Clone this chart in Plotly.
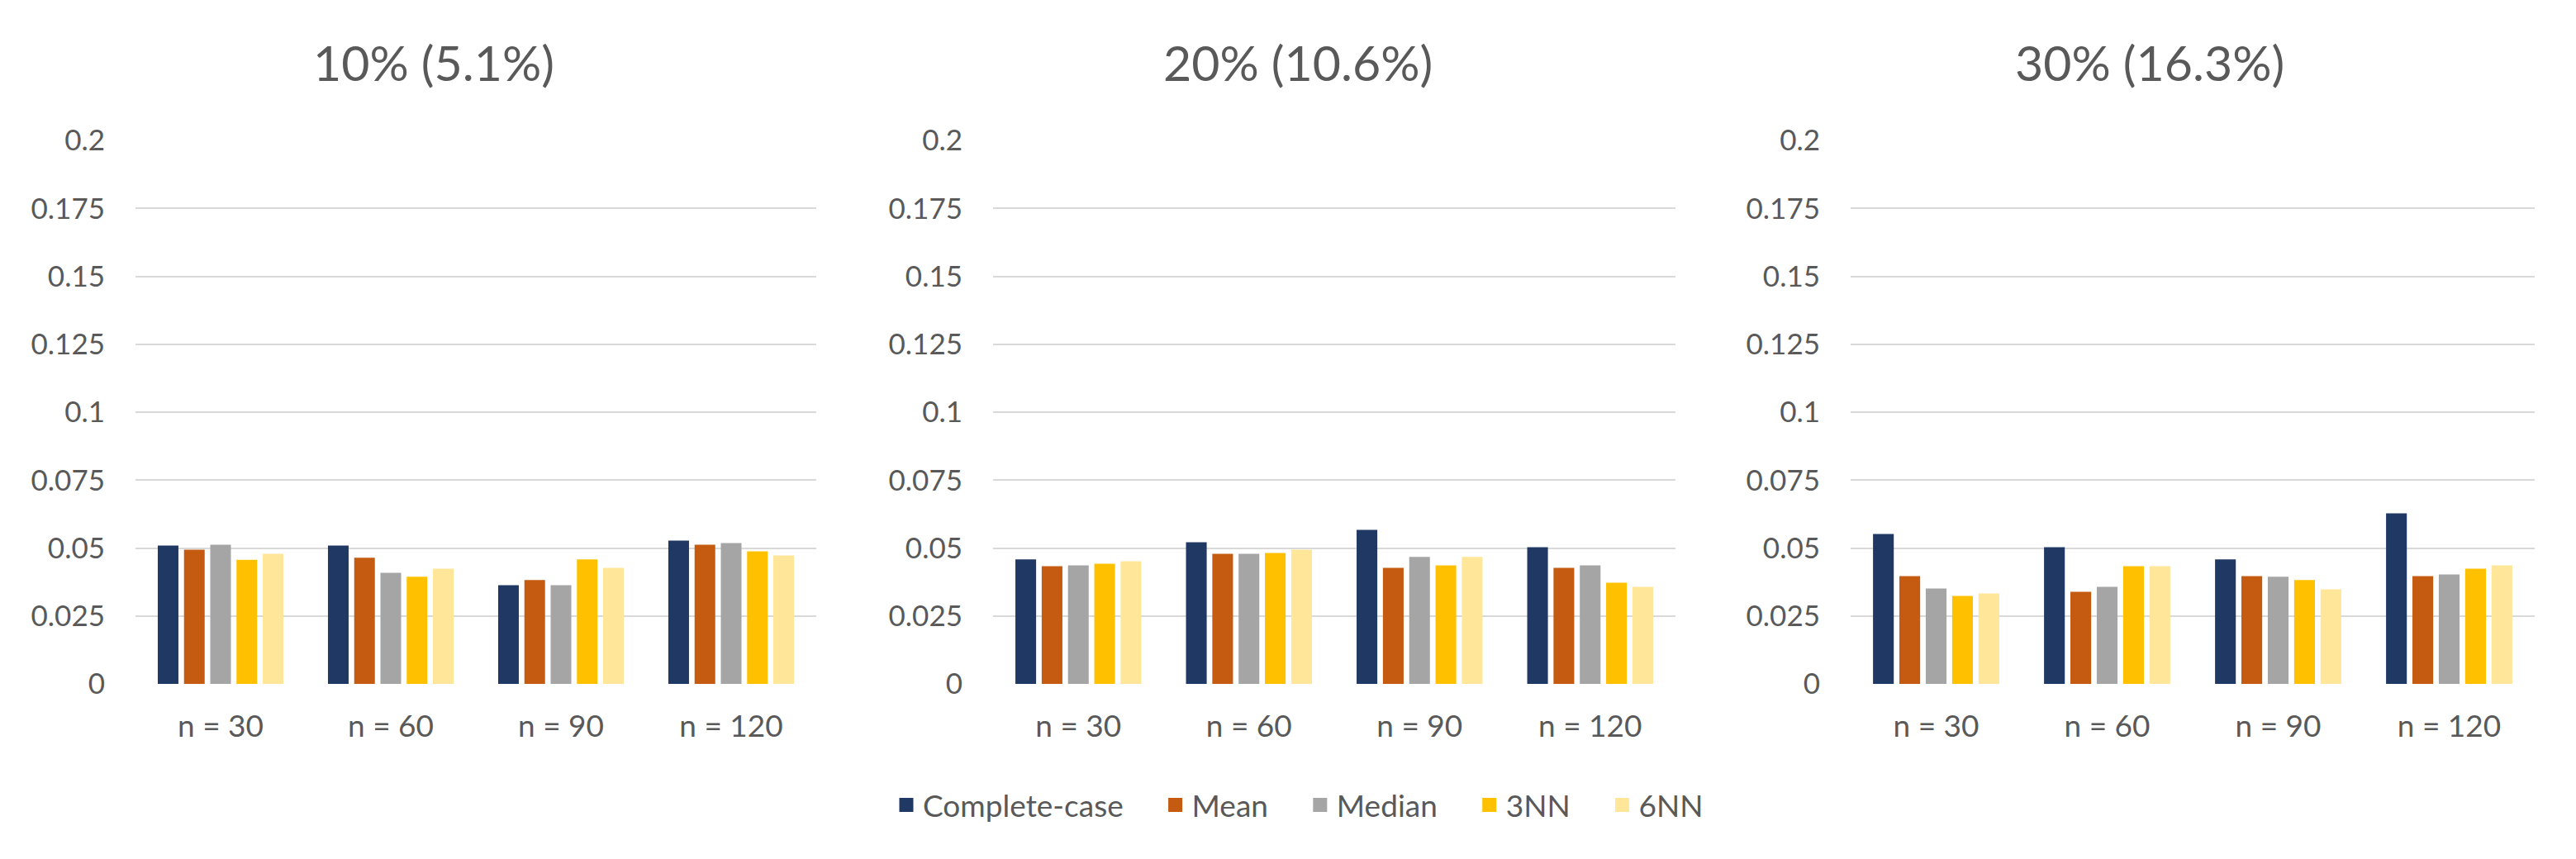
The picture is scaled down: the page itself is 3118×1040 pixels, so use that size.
import plotly.graph_objects as go

categories = ["n = 30", "n = 60", "n = 90", "n = 120"]
methods = ["Complete-case", "Mean", "Median", "3NN", "6NN"]
colors = ["#203864", "#C55A11", "#A5A5A5", "#FFC000", "#FFE699"]
panel_titles = ["10% (5.1%)", "20% (10.6%)", "30% (16.3%)"]
y_ticks = [0, 0.025, 0.05, 0.075, 0.1, 0.125, 0.15, 0.175, 0.2]
y_tick_labels = ["0", "0.025", "0.05", "0.075", "0.1", "0.125", "0.15", "0.175", "0.2"]

p10_complete = [0.0509, 0.0509, 0.0363, 0.0527]
p10_mean = [0.0494, 0.0464, 0.0382, 0.0512]
p10_median = [0.0512, 0.0409, 0.0363, 0.0518]
p10_3nn = [0.0457, 0.0394, 0.0458, 0.0488]
p10_6nn = [0.0479, 0.0424, 0.0427, 0.0473]

p20_complete = [0.0458, 0.0521, 0.0567, 0.0503]
p20_mean = [0.0433, 0.0479, 0.0427, 0.0427]
p20_median = [0.0436, 0.0479, 0.0467, 0.0436]
p20_3nn = [0.0442, 0.0482, 0.0436, 0.0372]
p20_6nn = [0.0451, 0.0494, 0.0467, 0.0357]

p30_complete = [0.0552, 0.0503, 0.0458, 0.0628]
p30_mean = [0.0397, 0.0339, 0.0397, 0.0397]
p30_median = [0.0351, 0.0357, 0.0394, 0.0403]
p30_3nn = [0.0324, 0.0433, 0.0382, 0.0424]
p30_6nn = [0.0333, 0.0433, 0.0348, 0.0436]

panels = [
    [p10_complete, p10_mean, p10_median, p10_3nn, p10_6nn],
    [p20_complete, p20_mean, p20_median, p20_3nn, p20_6nn],
    [p30_complete, p30_mean, p30_median, p30_3nn, p30_6nn],
]

W, H = 3118, 1040
OFF = 8  # page offset compensation
FONT = "Lato, Noto Sans, sans-serif"
TXT = "#595959"
GRID = "#D9D9D9"
PAD = "\u00a0" * 4


def px_x(p):
    return (p - OFF) / W


def px_y(p):
    return 1 - (p - OFF) / H


x_domains = [(px_x(164), px_x(988)), (px_x(1202), px_x(2028)), (px_x(2240), px_x(3068))]
y_domain = (px_y(828), px_y(170))
title_x = [px_x(525), px_x(1571), px_x(2602)]

fig = go.Figure()

for pi, series in enumerate(panels):
    xa = "x" if pi == 0 else f"x{pi + 1}"
    ya = "y" if pi == 0 else f"y{pi + 1}"
    for mi, vals in enumerate(series):
        fig.add_trace(go.Bar(
            x=categories, y=vals, name=methods[mi],
            marker=dict(color=colors[mi], line=dict(width=0)),
            xaxis=xa, yaxis=ya, showlegend=False,
            hoverinfo="x+y+name",
        ))

# legend-only entries on a hidden axis pair
for mi, m in enumerate(methods):
    fig.add_trace(go.Bar(
        x=[categories[0]], y=[None], name=m + (PAD if mi < len(methods) - 1 else ""),
        marker=dict(color=colors[mi], line=dict(width=5, color=colors[mi])),
        xaxis="x4", yaxis="y4", showlegend=True,
    ))

layout = dict(
    width=W, height=H,
    margin=dict(l=0, r=0, t=0, b=0, autoexpand=False),
    paper_bgcolor="white", plot_bgcolor="white",
    barmode="group", bargap=0.229, bargroupgap=0.213,
    font=dict(family=FONT, color=TXT, size=35),
    showlegend=True,
    legend=dict(
        orientation="h", x=px_x(1572), xanchor="center", y=px_y(975), yanchor="middle",
        font=dict(family=FONT, size=37, color=TXT),
        itemclick=False, itemdoubleclick=False,
        traceorder="normal",
    ),
)

for pi in range(3):
    sfx = "" if pi == 0 else str(pi + 1)
    layout["xaxis" + sfx] = dict(
        domain=list(x_domains[pi]), anchor="y" + sfx,
        showgrid=False, showline=False, zeroline=False, automargin=False,
        ticks="", tickfont=dict(family=FONT, size=37, color=TXT),
        ticklabelstandoff=26, fixedrange=True,
    )
    layout["yaxis" + sfx] = dict(
        domain=list(y_domain), anchor="x" + sfx,
        range=[0, 0.2], tickvals=y_ticks, ticktext=y_tick_labels,
        showgrid=True, gridcolor=GRID, gridwidth=2, automargin=False,
        zeroline=False, showline=False, ticks="",
        tickfont=dict(family=FONT, size=35, color=TXT),
        ticklabelstandoff=36, fixedrange=True,
    )

layout["xaxis4"] = dict(domain=[0, 0.01], anchor="y4", visible=False, automargin=False)
layout["yaxis4"] = dict(domain=[0, 0.01], anchor="x4", visible=False, automargin=False)

annotations = []
for pi in range(3):
    annotations.append(dict(
        text=panel_titles[pi], x=title_x[pi], y=px_y(76),
        xref="paper", yref="paper", xanchor="center", yanchor="middle",
        showarrow=False, font=dict(family=FONT, size=59, color=TXT),
    ))
layout["annotations"] = annotations

fig.update_layout(**layout)
fig.write_html("out.html")
